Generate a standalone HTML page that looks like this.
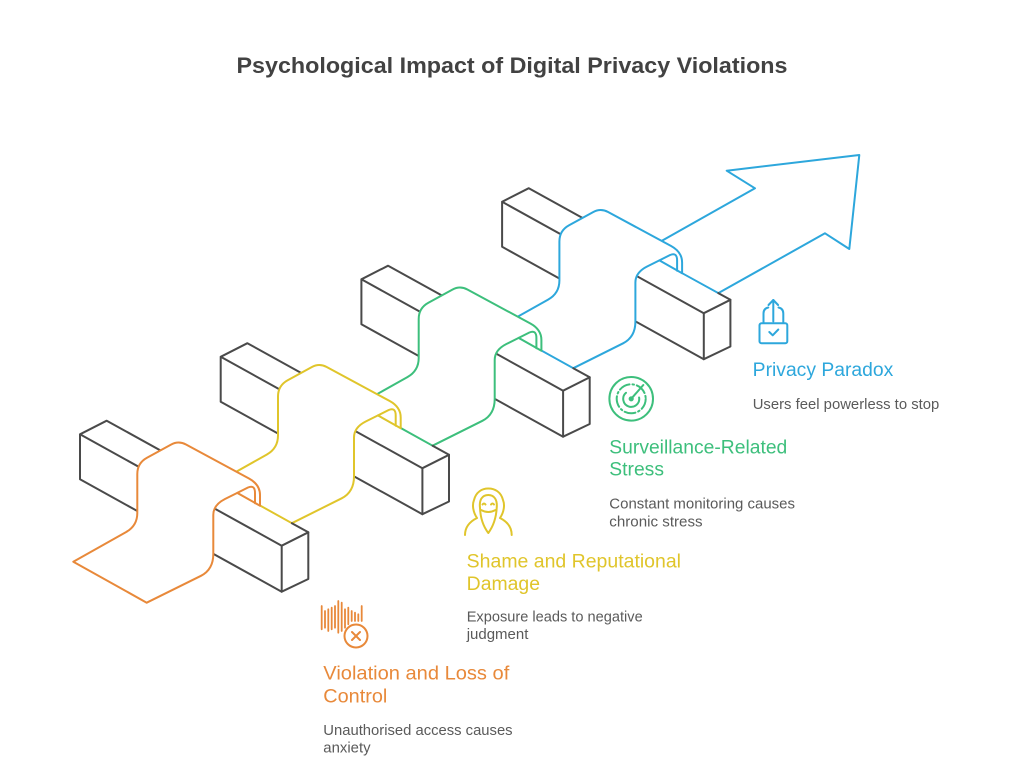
<!DOCTYPE html>
<html>
<head>
<meta charset="utf-8">
<style>
  html,body{margin:0;padding:0;background:#fff;}
  svg{display:block;}
  text{font-family:"Liberation Sans",sans-serif;}
</style>
</head>
<body>
<svg width="1024" height="782" viewBox="0 0 1024 782" xmlns="http://www.w3.org/2000/svg">
<rect width="1024" height="782" fill="#ffffff"/>

<text x="512" y="73" text-anchor="middle" font-weight="bold" font-size="22" fill="#424242" textLength="551" lengthAdjust="spacingAndGlyphs">Psychological Impact of Digital Privacy Violations</text>

<!-- ============ STAGE 3 (blue) ============ -->
<!-- arrow -->
<path d="M661.7,240.9 L755,188.3 L726.7,170.7 L859.3,155 L849.3,249 L825,233.3 L718.3,293.1 L682.1,273.2 Z" fill="#fff" stroke="#2DA7DC" stroke-width="2" stroke-linejoin="round"/>
<g transform="translate(422.1,-232.5)">
  <g stroke="#4A4A4A" stroke-width="2" stroke-linejoin="round" stroke-linecap="round">
    <polygon points="106.7,420.7 80,434.3 170,484.1 196.7,470.5" fill="#fff" stroke="none"/>
    <polygon points="80,434.3 80,479.3 170,529.1 170,484.1" fill="#fff" stroke="none"/>
    <path d="M196.7,470.5 L106.7,420.7 L80,434.3 L170,484.1 M80,434.3 L80,479.3 L170,529.1" fill="none"/>
    <polygon points="281.7,545.7 308.3,533.5 218.3,483.7 191.7,495.9" fill="#fff" stroke="none"/>
    <polygon points="281.7,545.7 281.7,591.7 191.7,541.9 191.7,495.9" fill="#fff" stroke="none"/>
    <polygon points="281.7,545.7 308.3,532.3 308.3,579 281.7,591.7" fill="#fff"/>
    <path d="M191.7,495.9 L281.7,545.7 M191.7,541.9 L281.7,591.7 M308.3,532.3 L296.2,525.6" fill="none"/>
  </g>
  <g fill="none" stroke="#2DA7DC" stroke-width="2" stroke-linejoin="round" stroke-linecap="round">
    <path fill="#fff" d="M77.1,559.6 L126,532.1 Q137.3,525.8 137.3,513 L137.3,474 Q137.3,463.1 147,457.8 L171,444.6 Q178.5,440.5 186,444.5 L249,478.5 Q260,484.5 260,495 L260,505.7 L237.3,492.9 L225,499 Q213.3,504.9 213.3,515 L213.3,554 Q213.3,569.5 201,575.8 L151.2,600.7 Z"/>
    <path d="M255,503.2 L255,493 Q255,484.5 248,487.5 L237.3,492.9"/>
  </g>
</g>

<!-- ============ STAGE 2 (green) ============ -->
<g transform="translate(281.4,-155)">
  <g stroke="#4A4A4A" stroke-width="2" stroke-linejoin="round" stroke-linecap="round">
    <polygon points="106.7,420.7 80,434.3 170,484.1 196.7,470.5" fill="#fff" stroke="none"/>
    <polygon points="80,434.3 80,479.3 170,529.1 170,484.1" fill="#fff" stroke="none"/>
    <path d="M196.7,470.5 L106.7,420.7 L80,434.3 L170,484.1 M80,434.3 L80,479.3 L170,529.1" fill="none"/>
    <polygon points="281.7,545.7 308.3,533.5 218.3,483.7 191.7,495.9" fill="#fff" stroke="none"/>
    <polygon points="281.7,545.7 281.7,591.7 191.7,541.9 191.7,495.9" fill="#fff" stroke="none"/>
    <polygon points="281.7,545.7 308.3,532.3 308.3,579 281.7,591.7" fill="#fff"/>
    <path d="M191.7,495.9 L281.7,545.7 M191.7,541.9 L281.7,591.7 M308.3,532.3 L291.9,523.2" fill="none"/>
  </g>
  <g fill="none" stroke="#3DBF7C" stroke-width="2" stroke-linejoin="round" stroke-linecap="round">
    <path fill="#fff" d="M77.1,559.6 L126,532.1 Q137.3,525.8 137.3,513 L137.3,474 Q137.3,463.1 147,457.8 L171,444.6 Q178.5,440.5 186,444.5 L249,478.5 Q260,484.5 260,495 L260,505.7 L237.3,492.9 L225,499 Q213.3,504.9 213.3,515 L213.3,554 Q213.3,569.5 201,575.8 L151.2,600.7 Z"/>
    <path d="M255,503.2 L255,493 Q255,484.5 248,487.5 L237.3,492.9"/>
  </g>
</g>

<!-- ============ STAGE 1 (yellow) ============ -->
<g transform="translate(140.7,-77.5)">
  <g stroke="#4A4A4A" stroke-width="2" stroke-linejoin="round" stroke-linecap="round">
    <polygon points="106.7,420.7 80,434.3 170,484.1 196.7,470.5" fill="#fff" stroke="none"/>
    <polygon points="80,434.3 80,479.3 170,529.1 170,484.1" fill="#fff" stroke="none"/>
    <path d="M196.7,470.5 L106.7,420.7 L80,434.3 L170,484.1 M80,434.3 L80,479.3 L170,529.1" fill="none"/>
    <polygon points="281.7,545.7 308.3,533.5 218.3,483.7 191.7,495.9" fill="#fff" stroke="none"/>
    <polygon points="281.7,545.7 281.7,591.7 191.7,541.9 191.7,495.9" fill="#fff" stroke="none"/>
    <polygon points="281.7,545.7 308.3,532.3 308.3,579 281.7,591.7" fill="#fff"/>
    <path d="M191.7,495.9 L281.7,545.7 M191.7,541.9 L281.7,591.7 M308.3,532.3 L291.9,523.2" fill="none"/>
  </g>
  <g fill="none" stroke="#E0C52B" stroke-width="2" stroke-linejoin="round" stroke-linecap="round">
    <path fill="#fff" d="M77.1,559.6 L126,532.1 Q137.3,525.8 137.3,513 L137.3,474 Q137.3,463.1 147,457.8 L171,444.6 Q178.5,440.5 186,444.5 L249,478.5 Q260,484.5 260,495 L260,505.7 L237.3,492.9 L225,499 Q213.3,504.9 213.3,515 L213.3,554 Q213.3,569.5 201,575.8 L151.2,600.7 Z"/>
    <path d="M255,503.2 L255,493 Q255,484.5 248,487.5 L237.3,492.9"/>
  </g>
</g>

<!-- ============ STAGE 0 (orange) ============ -->
<g>
  <g stroke="#4A4A4A" stroke-width="2" stroke-linejoin="round" stroke-linecap="round">
    <polygon points="106.7,420.7 80,434.3 170,484.1 196.7,470.5" fill="#fff" stroke="none"/>
    <polygon points="80,434.3 80,479.3 170,529.1 170,484.1" fill="#fff" stroke="none"/>
    <path d="M196.7,470.5 L106.7,420.7 L80,434.3 L170,484.1 M80,434.3 L80,479.3 L170,529.1" fill="none"/>
    <polygon points="281.7,545.7 308.3,533.5 218.3,483.7 191.7,495.9" fill="#fff" stroke="none"/>
    <polygon points="281.7,545.7 281.7,591.7 191.7,541.9 191.7,495.9" fill="#fff" stroke="none"/>
    <polygon points="281.7,545.7 308.3,532.3 308.3,579 281.7,591.7" fill="#fff"/>
    <path d="M191.7,495.9 L281.7,545.7 M191.7,541.9 L281.7,591.7 M308.3,532.3 L291.9,523.2" fill="none"/>
  </g>
  <g fill="none" stroke="#E8893A" stroke-width="2" stroke-linejoin="round" stroke-linecap="round">
    <path fill="#fff" d="M73.3,561.7 L126,532.1 Q137.3,525.8 137.3,513 L137.3,474 Q137.3,463.1 147,457.8 L171,444.6 Q178.5,440.5 186,444.5 L249,478.5 Q260,484.5 260,495 L260,505.7 L237.3,492.9 L225,499 Q213.3,504.9 213.3,515 L213.3,554 Q213.3,569.5 201,575.8 L146.7,602.7 Z"/>
    <path d="M255,503.2 L255,493 Q255,484.5 248,487.5 L237.3,492.9"/>
  </g>
</g>

<!-- ============ ICONS ============ -->
<!-- lock -->
<g fill="none" stroke="#2DA7DC" stroke-width="2" stroke-linecap="round" stroke-linejoin="round">
  <rect x="759.5" y="323.3" width="27.8" height="20" rx="2"/>
  <path d="M769.3,332 L772.7,335.3 L778.3,329.5"/>
  <path d="M763.5,323 V313.5 Q763.5,308.5 768.3,307.5"/>
  <path d="M783.3,323 V313.5 Q783.3,308.5 778.5,307.5"/>
  <path d="M773.3,321.5 V300"/>
  <path d="M768.5,305 L773.3,300 L778.1,305"/>
</g>
<!-- radar -->
<g fill="none" stroke="#3DBF7C" stroke-width="2" stroke-linecap="round">
  <circle cx="631.2" cy="398.8" r="21.8"/>
  <circle cx="631.2" cy="398.8" r="14.5" stroke-dasharray="11 3 1.5 3"/>
  <path d="M626,392.8 A8,8 0 1 0 639.1,397.5"/>
  <path d="M631.2,398.8 L643.3,385"/>
  <circle cx="631.2" cy="398.8" r="1.6" fill="#3DBF7C"/>
</g>
<!-- hood -->
<g fill="none" stroke="#E0C52B" stroke-width="2" stroke-linecap="round" stroke-linejoin="round">
  <path d="M465,535 C465,528 469,522 477,518 C473,512 472,505 474,500 C476,492 482,488.5 488.3,488.5 C495,488.5 501,492 503,500 C505,505 504,512 500,518 C508,522 511.7,528 511.7,535"/>
  <path d="M480,508 C479,500 482,495 488.3,495 C494.5,495 497.5,500 496.7,508 C496,520 492,528 488.3,533 C484.5,528 480.5,520 480,508 Z"/>
  <path d="M482.5,504.5 q1.5,-2 3,0 M491,504.5 q1.5,-2 3,0"/>
  <path d="M481,510 Q488.3,514 495.6,510"/>
</g>
<!-- sound wave with x -->
<g fill="none" stroke="#E8893A" stroke-width="1.8" stroke-linecap="round">
  <path d="M321.7,606 V629.3 M325,611 V627.7 M328.3,609.3 V631 M331.7,607.7 V629.3 M335,606 V627.7 M338.3,601 V632.7 M341.7,602.7 V631 M345,609.3 V627.7 M348.3,607.7 V624.3 M351.7,611 V621 M355,612.7 V621 M358.3,614.3 V621 M361.7,606 V621"/>
  <circle cx="356" cy="636" r="11.5" stroke-width="2"/>
  <path d="M352,632 L360,640 M360,632 L352,640" stroke-width="2"/>
</g>

<!-- ============ LABELS ============ -->
<text x="752.7" y="376" font-size="19" fill="#2DA7DC" textLength="140.6" lengthAdjust="spacingAndGlyphs">Privacy Paradox</text>
<text x="752.7" y="409" font-size="15" fill="#5A5A5A" textLength="186.6" lengthAdjust="spacingAndGlyphs">Users feel powerless to stop</text>

<text x="609.3" y="453.3" font-size="19" fill="#3DBF7C" textLength="178" lengthAdjust="spacingAndGlyphs">Surveillance-Related</text>
<text x="609.3" y="475.7" font-size="19" fill="#3DBF7C" textLength="54.7" lengthAdjust="spacingAndGlyphs">Stress</text>
<text x="609.3" y="508.3" font-size="15" fill="#5A5A5A" textLength="185.7" lengthAdjust="spacingAndGlyphs">Constant monitoring causes</text>
<text x="609.3" y="526.3" font-size="15" fill="#5A5A5A" textLength="93.3" lengthAdjust="spacingAndGlyphs">chronic stress</text>

<text x="466.7" y="567.3" font-size="19" fill="#E0C52B" textLength="214.3" lengthAdjust="spacingAndGlyphs">Shame and Reputational</text>
<text x="466.7" y="590" font-size="19" fill="#E0C52B" textLength="73.3" lengthAdjust="spacingAndGlyphs">Damage</text>
<text x="466.7" y="621.7" font-size="15" fill="#5A5A5A" textLength="176" lengthAdjust="spacingAndGlyphs">Exposure leads to negative</text>
<text x="466.7" y="639" font-size="15" fill="#5A5A5A" textLength="61.7" lengthAdjust="spacingAndGlyphs">judgment</text>

<text x="323.3" y="679.3" font-size="19" fill="#E8893A" textLength="186" lengthAdjust="spacingAndGlyphs">Violation and Loss of</text>
<text x="323.3" y="702.7" font-size="19" fill="#E8893A" textLength="64" lengthAdjust="spacingAndGlyphs">Control</text>
<text x="323.3" y="735" font-size="15" fill="#5A5A5A" textLength="189.3" lengthAdjust="spacingAndGlyphs">Unauthorised access causes</text>
<text x="323.3" y="752.5" font-size="15" fill="#5A5A5A" textLength="47.3" lengthAdjust="spacingAndGlyphs">anxiety</text>

</svg>
</body>
</html>
